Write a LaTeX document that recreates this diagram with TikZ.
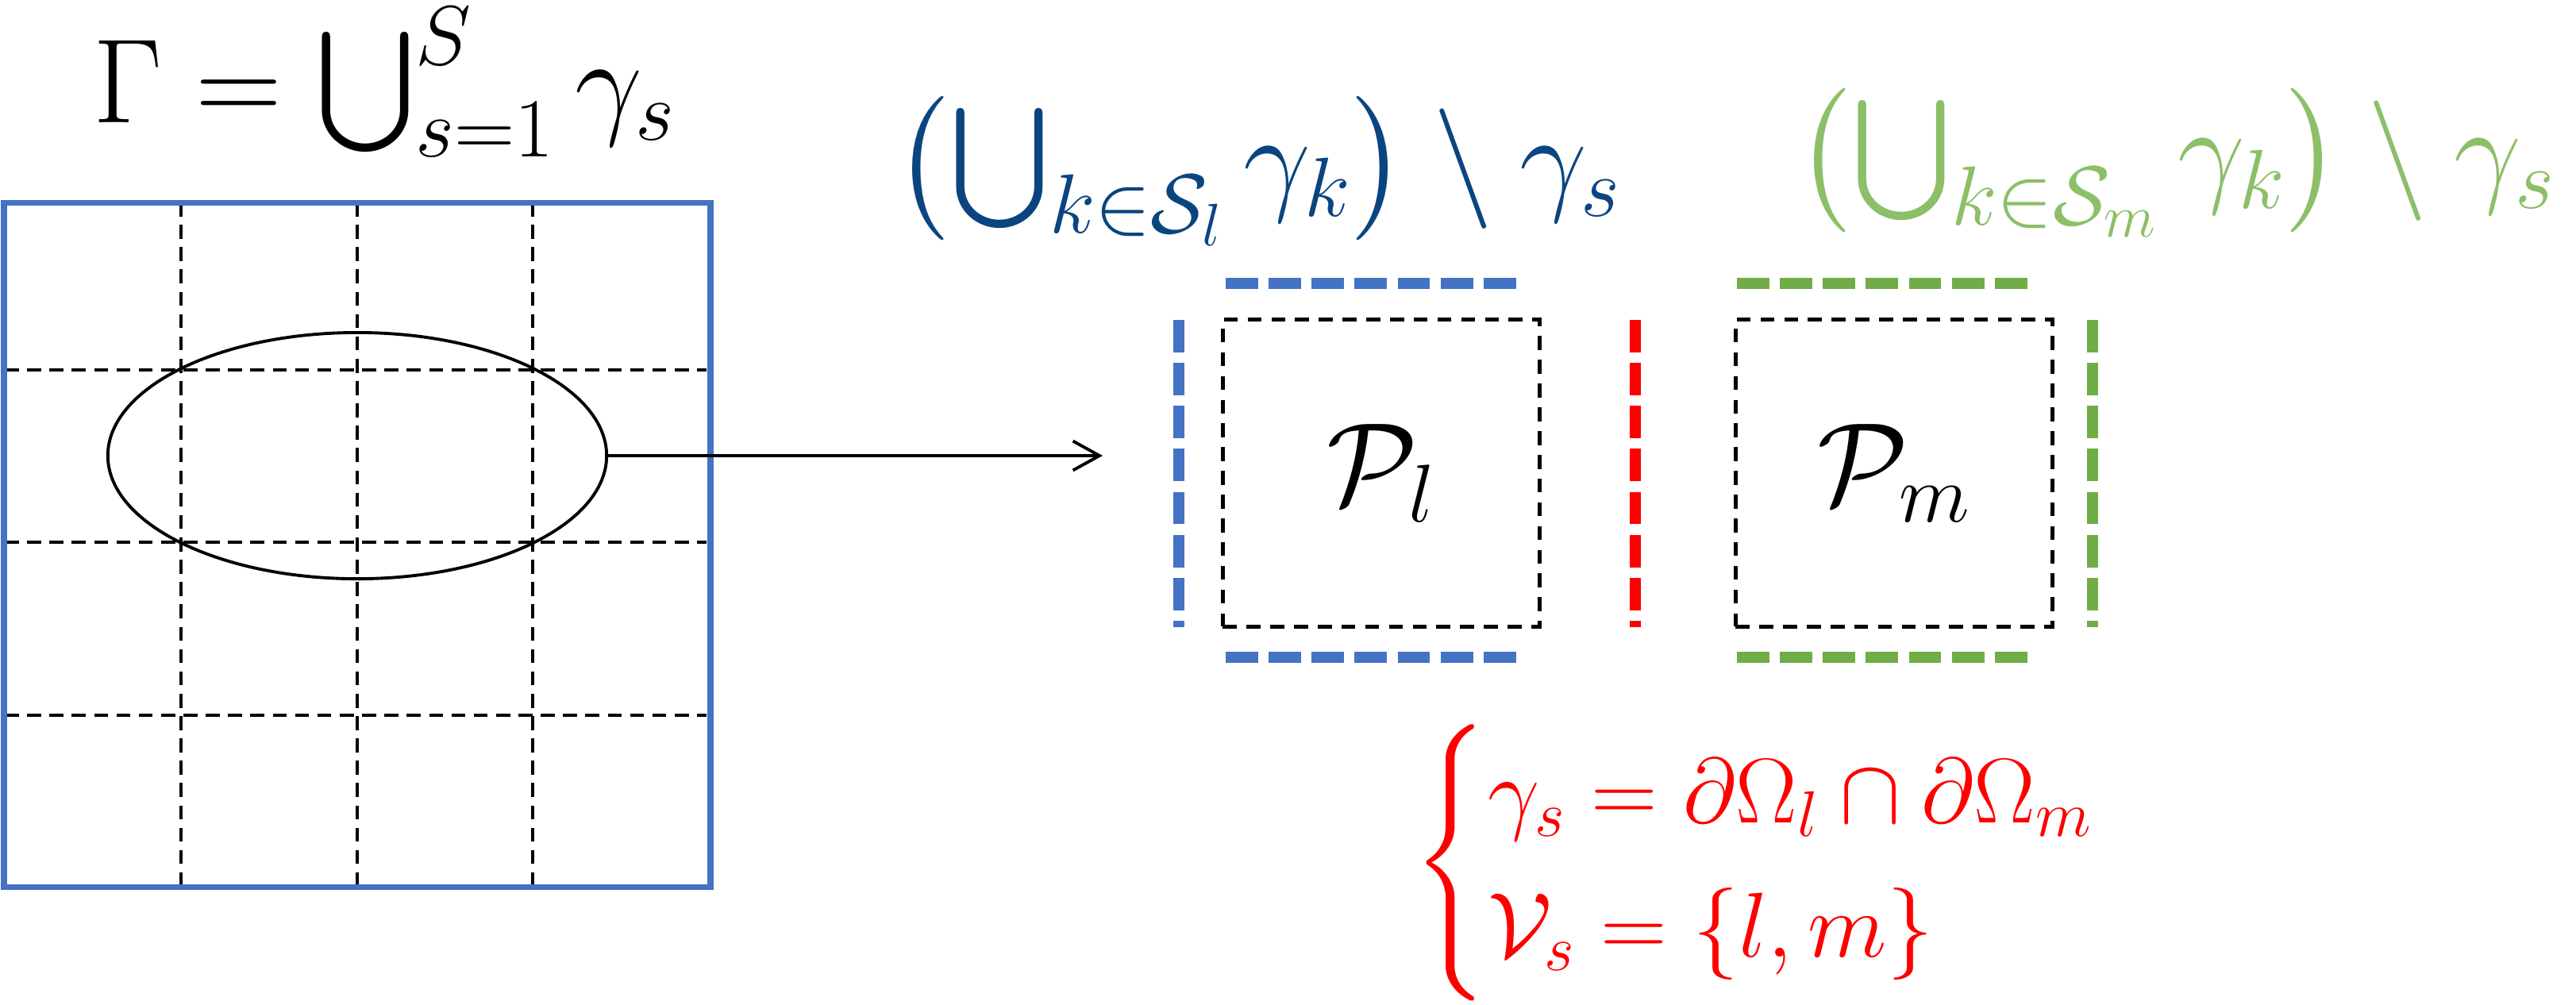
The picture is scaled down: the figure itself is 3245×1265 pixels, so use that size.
\documentclass[tikz,border=0pt]{standalone}
\usepackage{fix-cm}
\usepackage[]{amsmath}
\DeclareFontShape{OMX}{cmex}{m}{n}{<->cmex10}{}
\usetikzlibrary{positioning,shapes.geometric,arrows.meta}

\definecolor{meshblue}{HTML}{4472C4}
\definecolor{meshgreen}{HTML}{70AD47}
\definecolor{setblue}{HTML}{0B4580}
\definecolor{setgreen}{HTML}{8CBF68}

\begin{document}
\begin{tikzpicture}[x = 0.01cm, y = -0.01cm,
    cutline/.style = {black, line width = 0.9pt, dash pattern = on 5pt off 3pt},
    pbox/.style = {draw, black, line width = 1.4pt, dash pattern = on 5pt off 3.5pt,
        minimum width = 3.99cm, minimum height = 3.86cm, inner sep = 0,
        font = \fontsize{42}{50}\selectfont},
    side/.style = {line width = 4pt, dash pattern = on 11.6pt off 3.8pt},
    bigmath/.style = {inner sep = 0, font = \fontsize{43}{52}\selectfont}]
    \useasboundingbox (0,0) rectangle (3245,1265);

    % mesh of the whole boundary
    \draw [cutline] (228,255) -- (228,1117);
    \draw [cutline] (450,255) -- (450,1117);
    \draw [cutline] (671,255) -- (671,1117);
    \draw [cutline] (6,466) -- (890,466);
    \draw [cutline] (6,683) -- (890,683);
    \draw [cutline] (6,901) -- (890,901);
    \draw [meshblue, line width = 2pt] (5,255) rectangle (895,1117);

    \node [bigmath, anchor = base west] (gamma) at (117,154) {$\Gamma = \bigcup_{s=1}^{S} \gamma_s$};

    \node [draw, ellipse, line width = 1.1pt, minimum width = 6.28cm, minimum height = 3.1cm, inner sep = 0] (patch) at (450,574) {};
    \coordinate (tip) at (1389,574);
    \draw [-{Straight Barb[length = 9.5pt, width = 10.5pt]}, line width = 1.1pt] (patch.east) -- (tip);

    % the two subdomains
    \node [pbox] (Pl) at (1740,596) {$\mathcal{P}_l$};
    \node [pbox] (Pm) at (2386,596) {$\mathcal{P}_m$};

    \draw [meshblue, side] (1544,357) -- (1915,357);
    \draw [meshblue, side] (1544,828) -- (1915,828);
    \draw [meshblue, side] (1485,403) -- (1485,790);

    \draw [red, side] (2060,403) -- (2060,790);

    \draw [meshgreen, side] (2188,357) -- (2559,357);
    \draw [meshgreen, side] (2188,828) -- (2559,828);
    \draw [meshgreen, side] (2636,403) -- (2636,790);

    \node [bigmath, anchor = base west, setblue] (setl) at (1126,250)
        {$\bigl(\bigcup_{k\in\mathcal{S}_l} \gamma_k\bigr) \setminus \gamma_s$};
    \node [bigmath, anchor = base west, setgreen] (setm) at (2262,240)
        {$\bigl(\bigcup_{k\in\mathcal{S}_m} \gamma_k\bigr) \setminus \gamma_s$};

    \node [anchor = west, inner sep = 0, red, font = \fontsize{33}{40}\selectfont] (iface) at (1780,1087)
        {$\begin{cases} \gamma_s = \partial\Omega_l \cap \partial\Omega_m \\ \mathcal{V}_s = \{l,m\} \end{cases}$};
\end{tikzpicture}
\end{document}
